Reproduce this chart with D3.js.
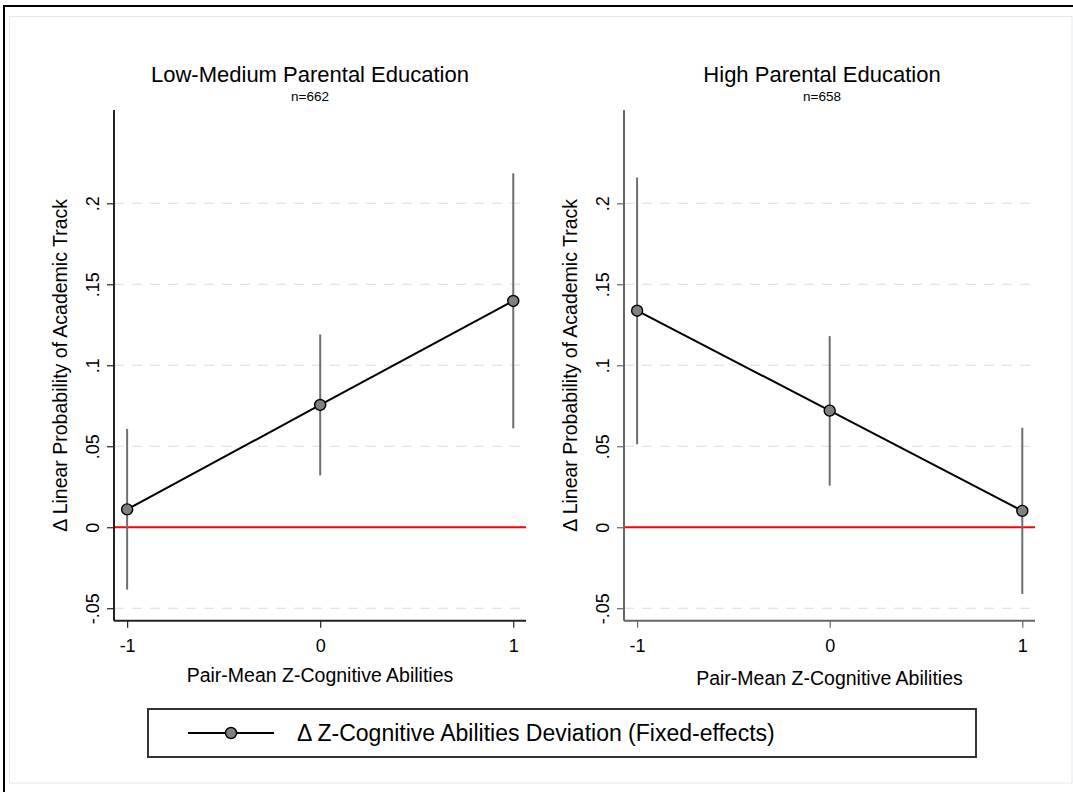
<!DOCTYPE html>
<html><head><meta charset="utf-8">
<script src="https://cdn.jsdelivr.net/npm/d3@7"></script>
<style>html,body{margin:0;padding:0;background:#fff;} svg{display:block;font-family:"Liberation Sans",Arial,sans-serif;}</style>
</head><body>
<script>
const xCats = [-1, 0, 1];
const xTickLabels = ["-1", "0", "1"];
const yTicks = [-0.05, 0, 0.05, 0.1, 0.15, 0.2];
const yTickLabels = ["-.05", "0", ".05", ".1", ".15", ".2"];
const gridVals = [-0.05, 0.05, 0.1, 0.15, 0.2];

const lowEst = [0.011, 0.0755, 0.1397];
const lowLo  = [-0.0385, 0.032, 0.061];
const lowHi  = [0.0607, 0.119, 0.2185];
const highEst = [0.1337, 0.072, 0.0101];
const highLo  = [0.0512, 0.0257, -0.0412];
const highHi  = [0.216, 0.118, 0.0614];

const panelTitles = ["Low-Medium Parental Education", "High Parental Education"];
const panelN = ["n=662", "n=658"];
const yTitle = "\u0394 Linear Probability of Academic Track";
const xTitle = "Pair-Mean Z-Cognitive Abilities";
const legendLabel = "\u0394 Z-Cognitive Abilities Deviation (Fixed-effects)";

const W = 1073, H = 792;
const svg = d3.select("body").append("svg").attr("width", W).attr("height", H);

// outer frames
svg.append("rect").attr("x", 4).attr("y", 6).attr("width", W + 20).attr("height", H + 20)
  .attr("fill", "#fff").attr("stroke", "#000").attr("stroke-width", 2);
svg.append("rect").attr("x", 9.5).attr("y", 16.5).attr("width", 1062.5).attr("height", 766.5)
  .attr("fill", "#fff").attr("stroke", "#e4eaec").attr("stroke-width", 1);

const panels = [
  {x0: 114, x1: 526, est: lowEst, lo: lowLo, hi: lowHi, axisColor: "#222", titleX: 310, ytx: 60, xtY: 682},
  {x0: 624, x1: 1035, est: highEst, lo: highLo, hi: highHi, axisColor: "#666", titleX: 822, ytx: 570, xtY: 685}
];
const yTop = 110, yBot = 620.7;

panels.forEach((p, i) => {
  const g = svg.append("g");
  const x = d3.scaleLinear().domain([-1.068, 1.066]).range([p.x0, p.x1]);
  const y = d3.scaleLinear().domain([-0.0577, 0.2576]).range([yBot, yTop]);

  // gridlines
  g.selectAll("line.grid").data(gridVals).join("line")
    .attr("x1", p.x0).attr("x2", p.x1)
    .attr("y1", d => y(d)).attr("y2", d => y(d))
    .attr("stroke", "#dcdcdc").attr("stroke-width", 1).attr("stroke-dasharray", "10,8");
  // zero line
  g.append("line").attr("x1", p.x0).attr("x2", p.x1).attr("y1", y(0)).attr("y2", y(0))
    .attr("stroke", "#ff0000").attr("stroke-width", 2);

  // y axis
  const ya = g.append("g").attr("transform", `translate(${p.x0},0)`)
    .call(d3.axisLeft(y).tickValues(yTicks).tickFormat((d, k) => yTickLabels[k]).tickSize(7).tickSizeOuter(0));
  ya.select(".domain").attr("d", `M0,${yTop}V${yBot}`).attr("stroke", p.axisColor).attr("stroke-width", 2);
  ya.selectAll(".tick line").attr("stroke", p.axisColor).attr("stroke-width", 1.2);
  ya.selectAll(".tick text").attr("x", 0).attr("dy", null).attr("y", -15)
    .attr("transform", "rotate(-90)").style("text-anchor", "middle")
    .style("font-size", "18px").style("font-family", "Liberation Sans, Arial, sans-serif").attr("fill", "#000");

  // x axis
  const xa = g.append("g").attr("transform", `translate(0,${yBot})`)
    .call(d3.axisBottom(x).tickValues(xCats).tickFormat((d, k) => xTickLabels[k]).tickSize(7).tickSizeOuter(0));
  xa.select(".domain").attr("d", `M${p.x0},0H${p.x1}`).attr("stroke", p.axisColor).attr("stroke-width", 2);
  xa.selectAll(".tick line").attr("stroke", p.axisColor).attr("stroke-width", 1.2);
  xa.selectAll(".tick text").attr("dy", null).attr("y", 31)
    .style("font-size", "18px").style("font-family", "Liberation Sans, Arial, sans-serif").attr("fill", "#000");

  // CIs
  g.selectAll("line.ci").data(xCats).join("line")
    .attr("x1", d => x(d)).attr("x2", d => x(d))
    .attr("y1", (d, k) => y(p.lo[k])).attr("y2", (d, k) => y(p.hi[k]))
    .attr("stroke", "#6e6e6e").attr("stroke-width", 2);
  // connecting line
  const line = d3.line().x((d, k) => x(xCats[k])).y(d => y(d));
  g.append("path").datum(p.est).attr("d", line).attr("fill", "none").attr("stroke", "#000").attr("stroke-width", 2);
  // markers
  g.selectAll("circle.pt").data(p.est).join("circle")
    .attr("cx", (d, k) => x(xCats[k])).attr("cy", d => y(d)).attr("r", 5.5)
    .attr("fill", "#808080").attr("stroke", "#000").attr("stroke-width", 1.4);

  // titles
  svg.append("text").attr("x", p.titleX).attr("y", 82).attr("text-anchor", "middle")
    .style("font-size", "22px").text(panelTitles[i]);
  svg.append("text").attr("x", p.titleX).attr("y", 101).attr("text-anchor", "middle")
    .style("font-size", "13.5px").text(panelN[i]);
  // y title
  svg.append("text").attr("transform", `translate(${p.ytx + 7},${(yTop + yBot) / 2}) rotate(-90)`)
    .attr("text-anchor", "middle").style("font-size", "19.5px").text(yTitle);
  // x title
  svg.append("text").attr("x", (p.x0 + p.x1) / 2).attr("y", p.xtY).attr("text-anchor", "middle")
    .style("font-size", "19.5px").text(xTitle);
});

// legend
const lg = svg.append("g");
lg.append("rect").attr("x", 148).attr("y", 709).attr("width", 828).attr("height", 48)
  .attr("fill", "#fff").attr("stroke", "#333").attr("stroke-width", 2);
lg.append("line").attr("x1", 188).attr("x2", 274).attr("y1", 733).attr("y2", 733)
  .attr("stroke", "#000").attr("stroke-width", 2);
lg.append("circle").attr("cx", 231).attr("cy", 733).attr("r", 5.5)
  .attr("fill", "#808080").attr("stroke", "#000").attr("stroke-width", 1.4);
lg.append("text").attr("x", 297).attr("y", 741).style("font-size", "23px").text(legendLabel);
</script>
</body></html>
